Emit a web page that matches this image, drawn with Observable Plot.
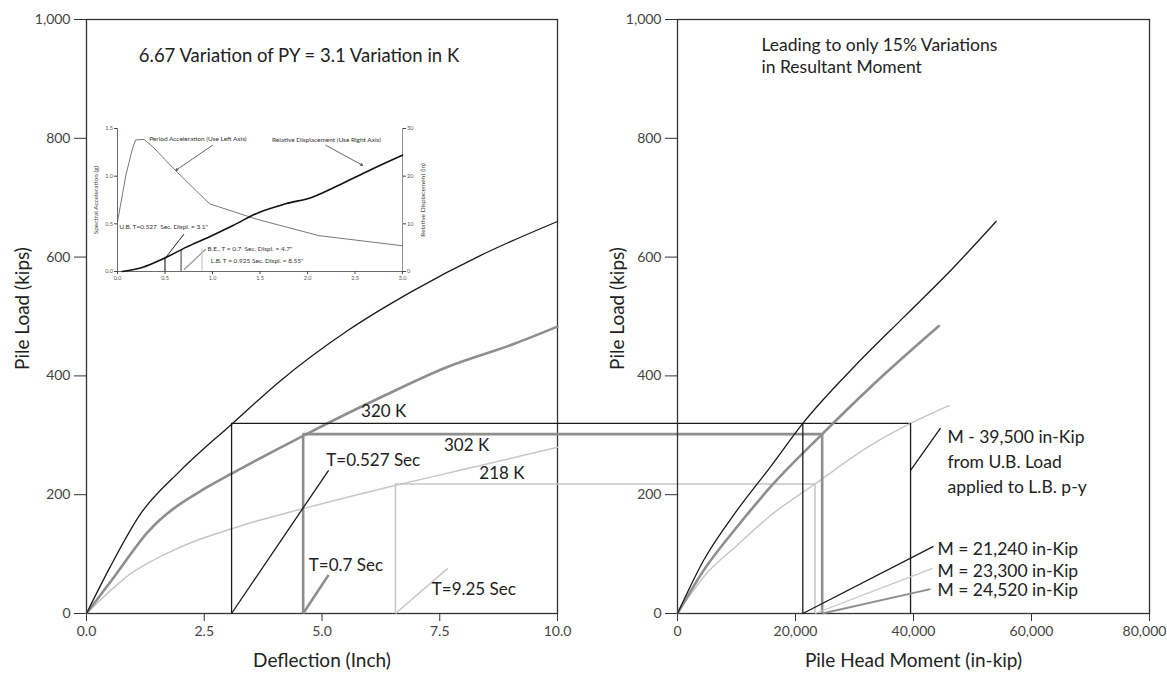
<!DOCTYPE html>
<html><head><meta charset="utf-8">
<script src="https://cdn.jsdelivr.net/npm/d3@7"></script>
<script src="https://cdn.jsdelivr.net/npm/@observablehq/plot@0.6"></script>
<style>
html,body{margin:0;padding:0;background:#fff;}
#wrap{position:relative;width:1167px;height:675px;overflow:hidden;background:#fff;}
#wrap svg{position:absolute;left:0;top:0;overflow:visible;background:transparent;}
</style></head><body><div id="wrap"></div>
<script>
// ---------- main data: left panel (Deflection vs Pile Load) ----------
const deflUB = [0, 0.5, 1.15, 2.0, 3.1, 4.12, 5.54, 6.95, 8.37, 10];
const loadUB = [0, 78, 168, 241, 320, 392, 476, 544, 603, 660];
const deflBE = [0, 0.59, 1.3, 2.57, 3.07, 4.62, 6.25, 7.66, 9.08, 10];
const loadBE = [0, 62, 137, 213, 235, 300, 364, 415, 454, 483];
const deflLB = [0, 0.94, 2.0, 3.42, 4.62, 6.57, 8.37, 10];
const loadLB = [0, 67, 112, 151, 177, 216, 249, 280];

// ---------- right panel (Pile Head Moment vs Pile Load) ----------
const momUB = [0, 4460, 10110, 15760, 21240, 29900, 38360, 46830, 54000];
const mloadUB = [0, 90, 174, 247, 320, 415, 499, 583, 660];
const momBE = [0, 4460, 10110, 15760, 24520, 32700, 44300];
const mloadBE = [0, 73, 146, 213, 302, 381, 484];
const momLB = [0, 4460, 10110, 15760, 23300, 32700, 39500, 46000];
const mloadLB = [0, 62, 115, 165, 218, 283, 320, 350];

// ---------- design cases ----------
const caseKey = ["UB", "BE", "LB"];
const caseDefl = [3.08, 4.6, 6.56];
const caseLoad = [320, 302, 218];
const caseMoment = [21240, 24520, 23300];
const caseMomentFar = [39500, 24520, 23300];
const caseLoadLabel = ["320 K", "302 K", "218 K"];
const casePeriod = ["T=0.527 Sec", "T=0.7 Sec", "T=9.25 Sec"];
const caseMomentLabel = ["M = 21,240 in-Kip", "M = 23,300 in-Kip", "M = 24,520 in-Kip"];

// ---------- ticks ----------
const yTicks = [0, 200, 400, 600, 800, 1000];
const xTicksL = [0, 2.5, 5, 7.5, 10];
const xTicksR = [0, 20000, 40000, 60000, 80000];

// ---------- inset data (response spectrum) ----------
const accT = [0, 0.088, 0.158, 0.19, 0.28, 0.37, 0.61, 0.97, 1.46, 2.12, 3.0];
const accSa = [0.52, 1.01, 1.29, 1.38, 1.385, 1.31, 1.06, 0.71, 0.55, 0.376, 0.27];
const dispT = [0.05, 0.26, 0.51, 0.72, 0.97, 1.21, 1.49, 1.77, 2.05, 2.33, 2.65, 3.0];
const dispD = [0, 0.84, 2.95, 5.06, 7.3, 9.6, 12.4, 14.2, 15.6, 18.1, 21.2, 24.4];
const insetLineT = [0.5, 0.67, 0.89];
const insetLineD = [3.0, 4.4, 4.7];
const insetTicksX = [0, 0.5, 1.0, 1.5, 2.0, 2.5, 3.0];
const insetTicksAcc = [0, 0.5, 1.0, 1.5];
const insetTicksDisp = [0, 10, 20, 30];

// ---------- styles ----------
const FONT = "Lato, 'Open Sans', sans-serif";
const caseStroke = ["#1a1a1a", "#8e8e8e", "#c6c6c6"];
const caseWidth = [1.3, 2.6, 1.5];
const W = 1167, H = 675;
const LM = {left: 86, right: 557, top: 19, bottom: 613};
const RM = {left: 677, right: 1149};

const pts = (xs, ys) => xs.map((x, i) => ({x, y: ys[i]}));
const cases = caseKey.map((k, i) => ({
  k, defl: caseDefl[i], load: caseLoad[i], m: caseMoment[i], mFar: caseMomentFar[i],
  stroke: caseStroke[i], sw: caseWidth[i]
}));

// scales used to join the two panels
const lx = Plot.scale({x: {domain: [0, 10], range: [LM.left, LM.right]}});
const rx = Plot.scale({x: {domain: [0, 80000], range: [RM.left, RM.right]}});
const toLeft = m => lx.invert(rx.apply(m));

const wrap = document.getElementById("wrap");
const axisStyle = {fontSize: 14, fill: "#444", stroke: "#333", label: null};
const fmtComma = d3.format(",");

// ---------- LEFT PANEL ----------
const leftNotes = [
  {t: "6.67 Variation of PY = 3.1 Variation in K", x: 1.11, y: 939, a: "start", fs: 18.5},
  {t: caseLoadLabel[0], x: 6.31, y: 340, a: "middle", fs: 17},
  {t: caseLoadLabel[1], x: 8.07, y: 283, a: "middle", fs: 17},
  {t: caseLoadLabel[2], x: 8.82, y: 236, a: "middle", fs: 17},
  {t: casePeriod[0], x: 5.09, y: 258, a: "start", fs: 17},
  {t: casePeriod[1], x: 4.72, y: 80, a: "start", fs: 17},
  {t: casePeriod[2], x: 7.33, y: 41, a: "start", fs: 17}
];
const leftLeaders = [
  {x1: caseDefl[0], y1: 0, x2: 5.14, y2: 241, i: 0},
  {x1: caseDefl[1], y1: 0, x2: 5.14, y2: 65, i: 1},
  {x1: caseDefl[2], y1: 0, x2: 7.67, y2: 76, i: 2}
];

const left = Plot.plot({
  width: W, height: H,
  marginLeft: LM.left, marginRight: W - LM.right, marginTop: LM.top, marginBottom: H - LM.bottom,
  style: {fontFamily: FONT, background: "transparent", overflow: "visible"},
  x: {domain: [0, 10], range: [LM.left, LM.right]},
  y: {domain: [0, 1000]},
  marks: [
    Plot.frame({stroke: "#333", strokeWidth: 1.3}),
    Plot.axisY({...axisStyle, ticks: yTicks, tickFormat: fmtComma, tickSize: 12, tickPadding: 4}),
    Plot.axisX({...axisStyle, ticks: xTicksL, tickFormat: d3.format(".1f"), tickSize: 8, tickPadding: 5}),
    Plot.text(["Pile Load (kips)"], {frameAnchor: "left", rotate: -90, dx: -64, dy: -8, fontSize: 19, fill: "#222", textAnchor: "middle", lineAnchor: "middle"}),
    Plot.text(["Deflection (Inch)"], {frameAnchor: "bottom", dy: 47, fontSize: 19, fill: "#222", lineAnchor: "middle"}),
    Plot.line(pts(deflLB, loadLB), {x: "x", y: "y", stroke: caseStroke[2], strokeWidth: caseWidth[2], curve: "monotone-x"}),
    Plot.line(pts(deflBE, loadBE), {x: "x", y: "y", stroke: caseStroke[1], strokeWidth: caseWidth[1], curve: "monotone-x"}),
    Plot.line(pts(deflUB, loadUB), {x: "x", y: "y", stroke: caseStroke[0], strokeWidth: caseWidth[0], curve: "monotone-x"}),
    Plot.ruleX(cases, {x: "defl", y1: 0, y2: "load", stroke: "stroke", strokeWidth: "sw"}),
    Plot.ruleY(cases, {y: "load", x1: "defl", x2: d => toLeft(d.mFar), stroke: "stroke", strokeWidth: "sw", clip: false}),
    Plot.link(leftLeaders, {x1: "x1", y1: "y1", x2: "x2", y2: "y2", stroke: d => caseStroke[d.i], strokeWidth: d => caseWidth[d.i]}),
    Plot.text(leftNotes, {x: "x", y: "y", text: "t", textAnchor: "start", fontSize: 17, fill: "#222", lineAnchor: "middle", filter: d => d.a === "start" && d.fs === 17}),
    Plot.text(leftNotes, {x: "x", y: "y", text: "t", textAnchor: "middle", fontSize: 17, fill: "#222", lineAnchor: "middle", filter: d => d.a === "middle"}),
    Plot.text(leftNotes, {x: "x", y: "y", text: "t", textAnchor: "start", fontSize: 18.5, fill: "#222", lineAnchor: "middle", filter: d => d.fs === 18.5})
  ]
});
wrap.appendChild(left);

// ---------- RIGHT PANEL ----------
const rightNotes = [
  {t: "Leading to only 15% Variations", x: 14240, y: 957},
  {t: "in Resultant Moment", x: 14240, y: 919},
  {t: "M - 39,500 in-Kip", x: 45760, y: 297},
  {t: "from U.B. Load", x: 45760, y: 255},
  {t: "applied to L.B. p-y", x: 45760, y: 213},
  {t: caseMomentLabel[0], x: 44070, y: 108},
  {t: caseMomentLabel[1], x: 44070, y: 71},
  {t: caseMomentLabel[2], x: 44070, y: 39}
];
const rightLeaders = [
  {x1: caseMoment[0], y1: 0, x2: 43390, y2: 113, i: 0},
  {x1: caseMoment[2], y1: 0, x2: 43220, y2: 76, i: 2},
  {x1: caseMoment[1], y1: 0, x2: 42880, y2: 41, i: 1},
  {x1: caseMomentFar[0], y1: 241, x2: 44580, y2: 312, i: 0}
];
const lastTick = xTicksR[xTicksR.length - 1];

const right = Plot.plot({
  width: W, height: H,
  marginLeft: RM.left, marginRight: W - RM.right, marginTop: LM.top, marginBottom: H - LM.bottom,
  style: {fontFamily: FONT, background: "transparent", overflow: "visible"},
  x: {domain: [0, 80000], range: [RM.left, RM.right]},
  y: {domain: [0, 1000]},
  marks: [
    Plot.frame({stroke: "#333", strokeWidth: 1.3}),
    Plot.axisY({...axisStyle, ticks: yTicks, tickFormat: fmtComma, tickSize: 12, tickPadding: 4}),
    Plot.axisX({...axisStyle, ticks: xTicksR, tickFormat: d => d === lastTick ? "" : fmtComma(d), tickSize: 8, tickPadding: 5}),
    Plot.text([lastTick], {x: d => d, frameAnchor: "bottom", text: d => fmtComma(d), dy: 13, dx: -5, fontSize: 14, fill: "#444", lineAnchor: "top"}),
    Plot.text(["Pile Load (kips)"], {frameAnchor: "left", rotate: -90, dx: -60, dy: -8, fontSize: 19, fill: "#222", textAnchor: "middle", lineAnchor: "middle"}),
    Plot.text(["Pile Head Moment (in-kip)"], {frameAnchor: "bottom", dy: 47, fontSize: 19, fill: "#222", lineAnchor: "middle"}),
    Plot.line(pts(momLB, mloadLB), {x: "x", y: "y", stroke: caseStroke[2], strokeWidth: caseWidth[2], curve: "monotone-x"}),
    Plot.line(pts(momBE, mloadBE), {x: "x", y: "y", stroke: caseStroke[1], strokeWidth: caseWidth[1], curve: "monotone-x"}),
    Plot.line(pts(momUB, mloadUB), {x: "x", y: "y", stroke: caseStroke[0], strokeWidth: caseWidth[0], curve: "monotone-x"}),
    Plot.ruleX(cases, {x: "m", y1: 0, y2: "load", stroke: "stroke", strokeWidth: "sw"}),
    Plot.ruleX([cases[0]], {x: "mFar", y1: 0, y2: "load", stroke: "stroke", strokeWidth: "sw"}),
    Plot.link(rightLeaders, {x1: "x1", y1: "y1", x2: "x2", y2: "y2", stroke: d => caseStroke[d.i], strokeWidth: d => d.i === 1 ? 2 : 1.3}),
    Plot.text(rightNotes, {x: "x", y: "y", text: "t", textAnchor: "start", fontSize: 17.5, fill: "#222", lineAnchor: "middle"})
  ]
});
wrap.appendChild(right);

// ---------- INSET (response spectrum) ----------
const IN = {left: 85, top: 85, w: 350, h: 200, ml: 32, mr: 33, mt: 43, mb: 14};
const insetStyle = {fontFamily: FONT, background: "transparent", overflow: "visible"};
const inAxis = {fontSize: 5.5, fill: "#555", stroke: "#444", label: null, tickSize: 3, tickPadding: 1.5};
const accNotes = [
  {t: "Period Acceleration (Use Left Axis)", x: 0.333, y: 1.395},
  {t: "Relative Displacement (Use Right Axis)", x: 1.625, y: 1.384},
  {t: "U.B. T=0.527  Sec. Displ. = 3.1\"", x: 0.018, y: 0.464},
  {t: "B.E., T = 0.7  Sec. Displ. = 4.7\"", x: 0.947, y: 0.235},
  {t: "L.B. T = 0.925 Sec. Displ. = 8.55\"", x: 0.982, y: 0.112}
];
const accArrows = [
  {x1: 1.0, y1: 1.324, x2: 0.614, y2: 1.061},
  {x1: 2.193, y1: 1.324, x2: 2.579, y2: 1.114}
];
const accLeaders = [
  {x1: 0.70, y1: 0.393, x2: 0.509, y2: 0.148, s: "#222", w: 1},
  {x1: 0.93, y1: 0.235, x2: 0.70, y2: 0.018, s: "#999", w: 1.3}
];

const insetA = Plot.plot({
  width: IN.w, height: IN.h,
  marginLeft: IN.ml, marginRight: IN.mr, marginTop: IN.mt, marginBottom: IN.mb,
  style: insetStyle,
  x: {domain: [0, 3]},
  y: {domain: [0, 1.5]},
  marks: [
    Plot.axisY({...inAxis, ticks: insetTicksAcc, tickFormat: d3.format(".1f")}),
    Plot.axisX({...inAxis, ticks: insetTicksX, tickFormat: d3.format(".1f")}),
    Plot.ruleX([0], {stroke: "#444", strokeWidth: 0.8}),
    Plot.ruleY([0], {stroke: "#444", strokeWidth: 0.8}),
    Plot.ruleX([3], {stroke: "#444", strokeWidth: 0.6}),
    Plot.text(["Spectral Acceleration (g)"], {frameAnchor: "left", rotate: -90, dx: -22, fontSize: 6.5, fill: "#444", textAnchor: "middle", lineAnchor: "middle"}),
    Plot.line(pts(accT, accSa), {x: "x", y: "y", stroke: "#555", strokeWidth: 0.8}),
    Plot.arrow(accArrows, {x1: "x1", y1: "y1", x2: "x2", y2: "y2", stroke: "#222", strokeWidth: 0.7, headLength: 5, bend: 0}),
    Plot.link(accLeaders, {x1: "x1", y1: "y1", x2: "x2", y2: "y2", stroke: "s", strokeWidth: "w"}),
    Plot.text(accNotes, {x: "x", y: "y", text: "t", textAnchor: "start", fontSize: 6.5, fill: "#333", lineAnchor: "middle"})
  ]
});
insetA.style.left = IN.left + "px"; insetA.style.top = IN.top + "px";
wrap.appendChild(insetA);

const insetB = Plot.plot({
  width: IN.w, height: IN.h,
  marginLeft: IN.ml, marginRight: IN.mr, marginTop: IN.mt, marginBottom: IN.mb,
  style: insetStyle,
  x: {domain: [0, 3], axis: null},
  y: {domain: [0, 30]},
  marks: [
    Plot.axisY({...inAxis, anchor: "right", ticks: insetTicksDisp, tickFormat: d3.format("d")}),
    Plot.text(["Relative Displacement (in)"], {frameAnchor: "right", rotate: -90, dx: 20, fontSize: 6.5, fill: "#444", textAnchor: "middle", lineAnchor: "middle"}),
    Plot.ruleX(insetLineT.map((t, i) => ({t, d: insetLineD[i], i})), {x: "t", y1: 0, y2: "d", stroke: d => caseStroke[d.i], strokeWidth: d => d.i === 1 ? 1.8 : 1.1}),
    Plot.line(pts(dispT, dispD), {x: "x", y: "y", stroke: "#111", strokeWidth: 1.6, curve: "monotone-x"})
  ]
});
insetB.style.left = IN.left + "px"; insetB.style.top = IN.top + "px";
wrap.appendChild(insetB);
</script></body></html>
